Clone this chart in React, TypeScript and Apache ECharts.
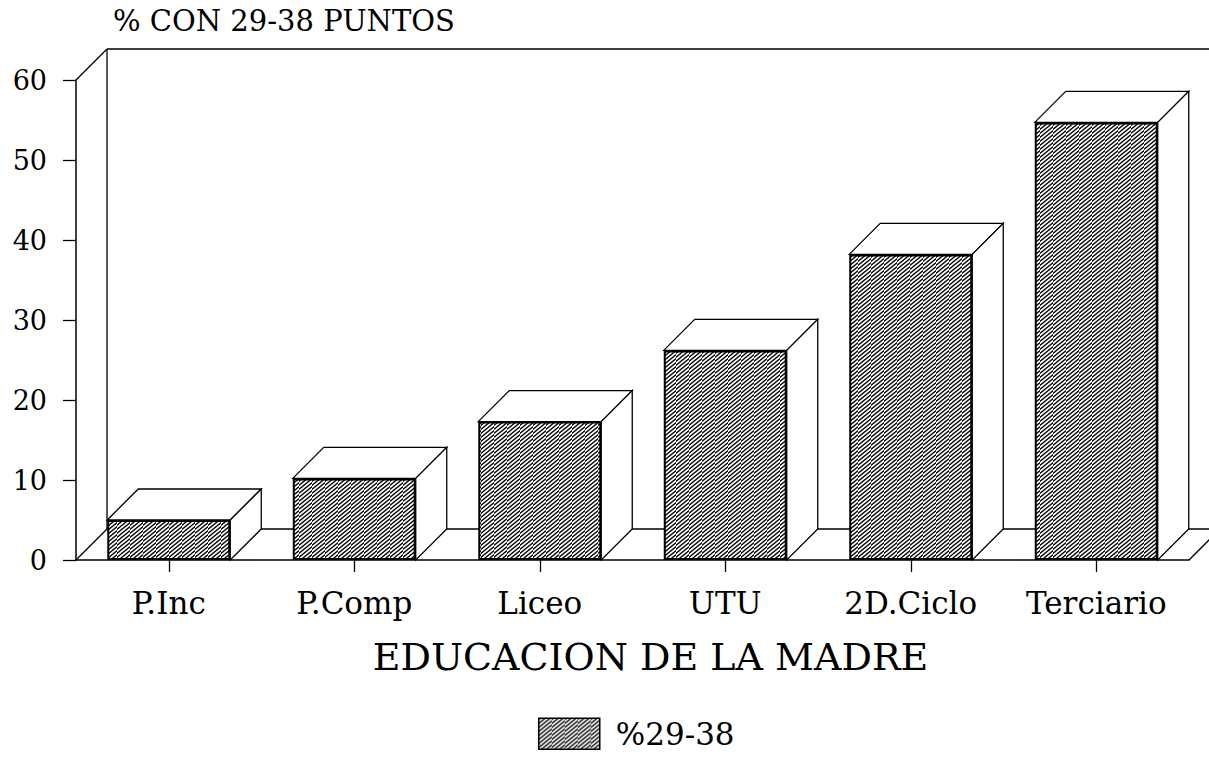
import React, { useEffect, useRef } from 'react';
import * as echarts from 'echarts';

const categories = ['P.Inc', 'P.Comp', 'Liceo', 'UTU', '2D.Ciclo', 'Terciario'];
const values = [5.0, 10.2, 17.3, 26.2, 38.2, 54.7];
const seriesName = '%29-38';
const yTitle = '% CON 29-38 PUNTOS';
const xTitle = 'EDUCACION DE LA MADRE';
const yMin = 0;
const yMax = 60;
const yInterval = 10;

const FONT = '"DejaVu Serif", serif';
const DEPTH = 31;
const BAR_RATIO = 0.663;

function makeHatch() {
  // tile 13 x 8 px holding two parallel "/" lines (slope 8/13)
  const W = 13;
  const H = 8;
  const N = 2;
  const S = 4;
  const c = document.createElement('canvas');
  const cw = W * S;
  const ch = H * S;
  c.width = cw;
  c.height = ch;
  const ctx = c.getContext('2d')!;
  ctx.fillStyle = '#fff';
  ctx.fillRect(0, 0, cw, ch);
  ctx.strokeStyle = '#000';
  ctx.lineWidth = 1.35 * S;
  for (let k = -2; k <= N + 1; k++) {
    const off = (k * ch) / N;
    ctx.beginPath();
    ctx.moveTo(-cw, ch + off + ch);
    ctx.lineTo(2 * cw, off - 2 * ch);
    ctx.stroke();
  }
  return { image: c, repeat: 'repeat', imageWidth: W, imageHeight: H } as any;
}

export default function App() {
  const ref = useRef<HTMLDivElement>(null);
  useEffect(() => {
    if (!ref.current) return;
    const chart = echarts.init(ref.current, null, { renderer: 'svg' });
    const hatch = makeHatch();
    const data3d = values.map((v, i) => [i, v]);
    const option: any = {
      animation: false,
      backgroundColor: '#fff',
      textStyle: { fontFamily: FONT, color: '#000' },
      title: {
        text: yTitle,
        left: 108,
        top: 1,
        textStyle: { fontFamily: FONT, fontSize: 29, fontWeight: 'normal', color: '#000' },
      },
      grid: { left: 76, right: 20, top: 80, bottom: 200, containLabel: false },
      legend: {
        bottom: 5,
        left: 533,
        itemWidth: 61,
        itemHeight: 31,
        itemGap: 16,
        data: [{ name: seriesName, icon: 'rect' }],
        textStyle: { fontFamily: FONT, fontSize: 31, color: '#000', padding: [0, 0, 0, 11] },
        itemStyle: { borderColor: '#000', borderWidth: 1.5 },
        selectedMode: false,
      },
      xAxis: {
        type: 'category',
        data: categories,
        name: xTitle,
        nameLocation: 'middle',
        nameGap: 78,
        nameTextStyle: { fontFamily: FONT, fontSize: 38, color: '#000', padding: [0, 0, 0, 36] },
        axisLine: { show: true, lineStyle: { color: '#000', width: 1.5 } },
        axisTick: { show: true, alignWithLabel: true, length: 12, lineStyle: { color: '#000', width: 1.3 } },
        axisLabel: { fontFamily: FONT, fontSize: 31, color: '#000', margin: 27 },
        splitLine: { show: false },
      },
      yAxis: {
        type: 'value',
        min: yMin,
        max: yMax,
        interval: yInterval,
        axisLine: { show: true, lineStyle: { color: '#000', width: 1.5 } },
        axisTick: { show: true, length: 13, lineStyle: { color: '#000', width: 1.3 } },
        axisLabel: { fontFamily: FONT, fontSize: 27, color: '#000', margin: 29 },
        splitLine: { show: false },
      },
      series: [
        {
          type: 'custom',
          name: 'frame',
          silent: true,
          z: 1,
          data: [0],
          renderItem: (params: any) => {
            const cs = params.coordSys;
            const l = cs.x, r = cs.x + cs.width, t = cs.y, b = cs.y + cs.height;
            const D = DEPTH;
            const ls = { stroke: '#000', lineWidth: 1.3 };
            const seg = (x1: number, y1: number, x2: number, y2: number) => ({
              type: 'line',
              shape: { x1, y1, x2, y2 },
              style: ls,
            });
            return {
              type: 'group',
              children: [
                seg(l, t, l + D, t - D),
                seg(l + D, t - D, r + D, t - D),
                seg(l + D, t - D, l + D, b - D),
                seg(l, b, l + D, b - D),
                seg(l + D, b - D, r + D, b - D),
                seg(r, b, r + D, b - D),
                seg(r + D, t - D, r + D, b - D),
              ],
            };
          },
        },
        {
          type: 'custom',
          name: '3d',
          silent: true,
          z: 2,
          data: data3d,
          renderItem: (params: any, api: any) => {
            const i = api.value(0);
            const v = api.value(1);
            const [cx, yTop] = api.coord([i, v]);
            const [, yBase] = api.coord([i, 0]);
            const half = (api.size([1, 0])[0] * BAR_RATIO) / 2;
            const xl = cx - half;
            const xr = cx + half;
            const D = DEPTH;
            const st = { fill: '#fff', stroke: '#000', lineWidth: 1.3 };
            return {
              type: 'group',
              children: [
                {
                  type: 'polygon',
                  shape: { points: [[xl, yTop], [xl + D, yTop - D], [xr + D, yTop - D], [xr, yTop]] },
                  style: st,
                },
                {
                  type: 'polygon',
                  shape: { points: [[xr, yTop], [xr + D, yTop - D], [xr + D, yBase - D], [xr, yBase]] },
                  style: st,
                },
              ],
            };
          },
        },
        {
          type: 'bar',
          name: seriesName,
          z: 3,
          data: values,
          barWidth: (BAR_RATIO * 100).toFixed(1) + '%',
          itemStyle: { color: hatch, borderColor: '#000', borderWidth: 2 },
          emphasis: { disabled: true },
        },
      ],
    };
    chart.setOption(option);
    return () => chart.dispose();
  }, []);
  return (
    <div
      ref={ref}
      style={{ position: 'fixed', left: 0, top: 0, width: 1209, height: 760, background: '#fff' }}
    />
  );
}
